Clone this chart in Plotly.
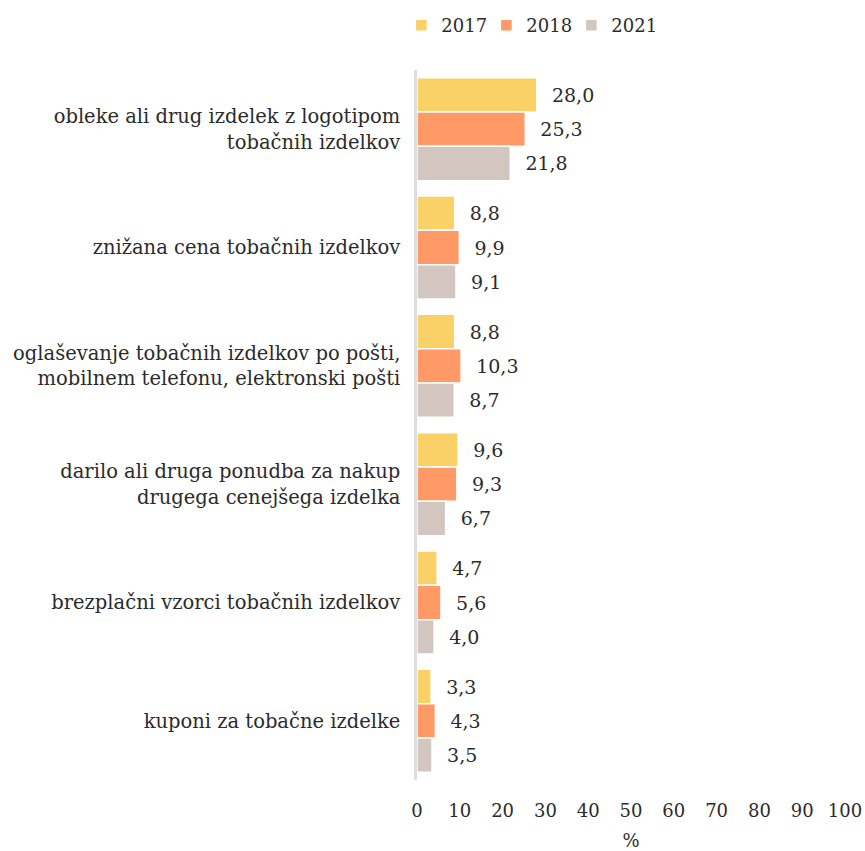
import plotly.graph_objects as go

categories = [
    "obleke ali drug izdelek z logotipom<br>tobačnih izdelkov",
    "znižana cena tobačnih izdelkov",
    "oglaševanje tobačnih izdelkov po pošti,<br>mobilnem telefonu, elektronski pošti",
    "darilo ali druga ponudba za nakup<br>drugega cenejšega izdelka",
    "brezplačni vzorci tobačnih izdelkov",
    "kuponi za tobačne izdelke",
]
years = ["2017", "2018", "2021"]
values_2017 = [28.0, 8.8, 8.8, 9.6, 4.7, 3.3]
values_2018 = [25.3, 9.9, 10.3, 9.3, 5.6, 4.3]
values_2021 = [21.8, 9.1, 8.7, 6.7, 4.0, 3.5]
colors = ["#F9D166", "#FF9966", "#D3C6C0"]

font_family = "DejaVu Serif"
text_color = "#2b2b2b"

fig = go.Figure()
for year, vals, col in zip(years, [values_2017, values_2018, values_2021], colors):
    fig.add_trace(go.Bar(
        name=year,
        y=categories,
        x=vals,
        orientation="h",
        marker=dict(color=col, line=dict(color="white", width=1.5)),
        texttemplate="\u00a0\u00a0%{x:.1f}",
        textposition="outside",
        textfont=dict(size=19, color=text_color, family=font_family),
        cliponaxis=False,
    ))

fig.update_layout(
    width=865,
    height=851,
    barmode="group",
    bargap=0.13,
    bargroupgap=0,
    separators=",.",
    paper_bgcolor="white",
    plot_bgcolor="white",
    font=dict(family=font_family, size=18, color=text_color),
    margin=dict(l=417, r=20, t=70, b=71),
    legend=dict(
        orientation="h",
        xref="container", yref="container",
        x=0.464, xanchor="left",
        y=0.97, yanchor="middle",
        font=dict(size=18),
        itemwidth=30,
        entrywidth=40,
        traceorder="normal",
    ),
    xaxis=dict(
        range=[0, 100],
        dtick=10,
        showgrid=False,
        zeroline=False,
        showline=False,
        automargin=False,
        ticklabelstandoff=18,
        tickfont=dict(size=18),
        title=dict(text="%", font=dict(size=18), standoff=16),
    ),
    yaxis=dict(
        autorange="reversed",
        showgrid=False,
        showline=True,
        linecolor="#DDDDDD",
        linewidth=2.5,
        ticks="",
        automargin=False,
        ticklabelstandoff=10,
        tickfont=dict(size=19.5),
    ),
)

# drop the browser's default body margin so the figure fills the window
fig.write_html(
    "out.html",
    config={"displayModeBar": False},
    post_script="document.body.style.margin='0';",
)
